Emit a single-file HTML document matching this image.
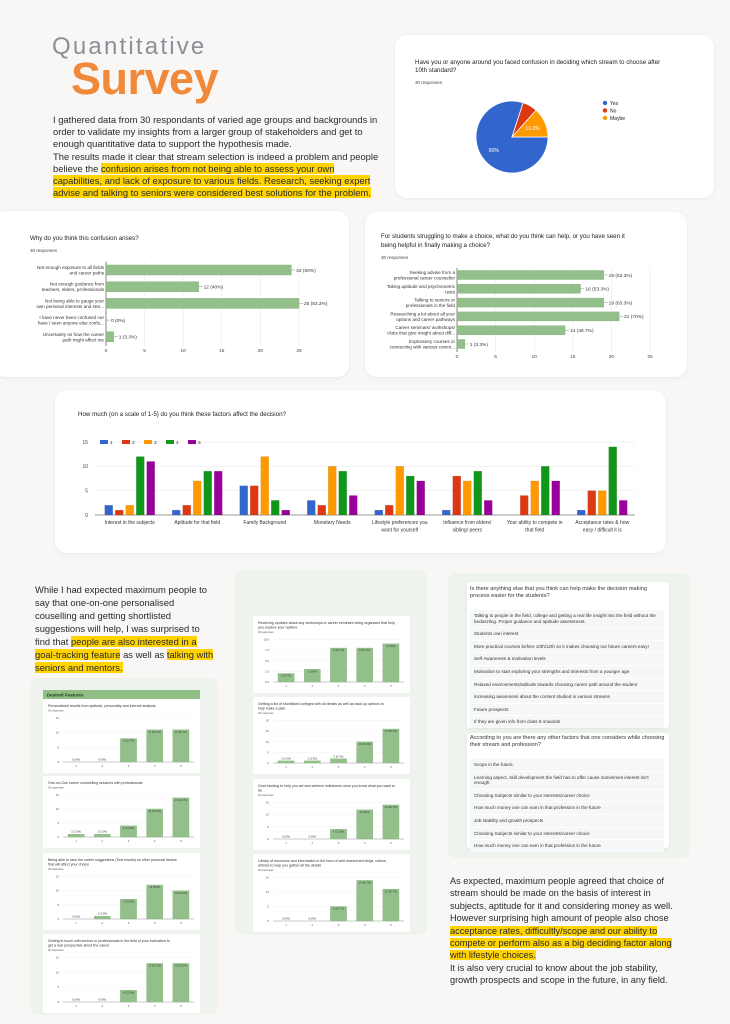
<!DOCTYPE html>
<html><head><meta charset="utf-8">
<style>
*{margin:0;padding:0;box-sizing:border-box}
body{width:730px;height:1024px;background:#f8f7f5;position:relative;overflow:hidden;font-family:"Liberation Sans",sans-serif;color:#222}
.abs{position:absolute}
.card{position:absolute;background:#fff;border-radius:12px;box-shadow:0 1px 4px rgba(0,0,0,0.06)}
.panel{position:absolute;background:#eef3ee;border-radius:8px}
.hl{background:#ffd400}
.para{position:absolute;white-space:nowrap;color:#2a2a2a}
#charts{position:absolute;left:0;top:0;width:730px;height:1024px;pointer-events:none}
</style></head><body>
<div class="abs" style="left:52px;top:33px;font-size:24px;letter-spacing:2.2px;color:#8b8f9a">Quantitative</div>
<div class="abs" style="left:71px;top:53px;font-size:45px;font-weight:bold;color:#f08a3a;letter-spacing:-0.5px">Survey</div>
<div class="para" style="left:53px;top:114px;font-size:9.4px;line-height:12.2px">I gathered data from 30 respondants of varied age groups and backgrounds in<br>order to validate my insights from a larger group of stakeholders and get to<br>enough quantitative data to support the hypothesis made.<br>The results made it clear that stream selection is indeed a problem and people<br>believe the <span class="hl">confusion arises from not being able to assess your own</span><br><span class="hl">capabilities, and lack of exposure to various fields. Research, seeking expert</span><br><span class="hl">advise and talking to seniors were considered best solutions for the problem.</span></div>

<div class="card" style="left:395px;top:35px;width:319px;height:163px"></div>
<div class="card" style="left:-6px;top:211px;width:355px;height:166px"></div>
<div class="card" style="left:365px;top:212px;width:322px;height:165px"></div>
<div class="card" style="left:55px;top:390px;width:611px;height:163px"></div>

<div class="para" style="left:35px;top:583px;font-size:9.4px;line-height:13px">While I had expected maximum people to<br>say that one-on-one personalised<br>couselling and getting shortlisted<br>suggestions will help, I was surprised to<br>find that <span class="hl">people are also interested in a</span><br><span class="hl">goal-tracking feature</span> as well as <span class="hl">talking with</span><br><span class="hl">seniors and mentors.</span></div>

<div class="panel" style="left:30px;top:678px;width:188px;height:337px"></div>
<div class="panel" style="left:235px;top:570px;width:192px;height:365px"></div>
<div class="panel" style="left:448px;top:573px;width:242px;height:285px"></div>

<div class="card" style="left:467px;top:582px;width:202px;height:146px;border-radius:3px;font-size:4.6px;color:#333">
<div style="padding:4px 3px;font-size:5.6px;line-height:7px;height:28px">Is there anything else that you think can help make the decision making process easier for the students?</div>
<div id="list1"></div></div>
<div class="card" style="left:467px;top:733px;width:202px;height:115px;border-radius:3px;font-size:4.6px;color:#333">
<div style="padding:2px 3px;font-size:5.6px;line-height:7px;height:26px">According to you are there any other factors that one considers while choosing their stream and profession?</div>
<div id="list2"></div></div>

<div class="para" style="left:450px;top:875px;font-size:9.2px;line-height:12.4px">As expected, maximum people agreed that choice of<br>stream should be made on the basis of interest in<br>subjects, aptitude for it and considering money as well.<br>However surprising high amount of people also chose<br><span class="hl">acceptance rates, difficultly/scope and our ability to</span><br><span class="hl">compete or perform also as a big deciding factor along</span><br><span class="hl">with lifestyle choices.</span><br>It is also very crucial to know about the job stability,<br>growth prospects and scope in the future, in any field.</div>

<svg id="charts" xmlns="http://www.w3.org/2000/svg" width="730" height="1024" font-family="Liberation Sans, sans-serif"></svg>

<script>
// ---- data ----
const pieLabels=["Yes","No","Maybe"];
const pieValues=[24,2,4];
const confCats=[["Not enough exposure to all fields","and career paths"],["Not enough guidance from","teachers, elders, professionals"],["Not being able to gauge your","own personal interests and stre..."],["I have never been confused nor","have I seen anyone else confu..."],["Uncertainty on how the career","path might affect me"]];
const confVals=[24,12,25,0,1];
const helpCats=[["Seeking advise from a","professional career counsellor"],["Taking aptitude and psychometric","tests"],["Talking to seniors or","professionals in the field"],["Researching a lot about all your","options and career pathways"],["Career seminars/ workshops/","clubs that give insight about diff..."],["Exploratory courses or","connecting with various comm..."]];
const helpVals=[19,16,19,21,14,1];
const axisTicks25=[0,5,10,15,20,25];
const factorCats=[["Interest in the subjects"],["Aptitude for that field"],["Family Background"],["Monetary Needs"],["Lifestyle preferences you","want for yourself"],["Influence from elders/","sibling/ peers"],["Your ability to compete in","that field"],["Acceptance rates & how","easy / difficult it is"]];
const seriesNames=["1","2","3","4","5"];
const s1=[2,1,6,3,1,1,0,1];
const s2=[1,2,6,2,2,8,4,5];
const s3=[2,7,12,10,10,7,7,5];
const s4=[12,9,3,9,8,9,10,14];
const s5=[11,9,1,4,7,3,7,3];
const factorTicks=[0,5,10,15];
const miniTitles=["Personalised results from aptitude, personality and interest analysis","One-on-One career counselling sessions with professionals","Being able to rank the career suggestions (Test results) on other personal factors that will affect your choice","Getting in touch with seniors or professionals in the field of your inclination to get a real perspective about the career","Receiving updates about any workshops or career seminars being organised that help you explore your options","Getting a list of shortlisted colleges with all details as well as back up options to help make a plan","Goal tracking to help you set and achieve milestones once you know what you want to do","Library of resources and information in the form of well researched blogs, videos, articles to help you gather all the details"];
const mini1=[0,0,8,11,11];
const mini2=[1,1,4,10,14];
const mini3=[0,1,7,12,10];
const mini4=[0,0,4,13,13];
const mini5=[2,3,8,8,9];
const mini6=[1,1,2,10,16];
const mini7=[0,0,4,12,14];
const mini8=[0,0,5,14,11];
const miniMax=[15,15,15,15,10,20,15,15];
const list1Items=["Talking to people in the field, college and getting a real life insight into the field without the bedazzling. Proper guidance and aptitude assessment.","Students own interest","More practical courses before 10th/12th so it makes choosing our future careers easy!","Self-Awareness & motivation levels","Motivation to start exploring your strengths and interests from a younger age","Relaxed environments/attitude towards choosing career path around the student","increasing awareness about the content studied in various streams","Future prospects","If they are given info from class 8 onwards"];
const list2Items=["Scope in the future,","Learning aspect, skill development the field has to offer cause sometimes interest isn't enough.","Choosing Subjects similar to your interests/career choice","How much money one can earn in that profession in the future","Job stability and growth prospects","Choosing Subjects similar to your interests/career choice","How much money one can earn in that profession in the future"];

const NS="http://www.w3.org/2000/svg";
const svg=document.getElementById('charts');
function mk(tag,attrs,parent,txt){const e=document.createElementNS(NS,tag);for(const k in attrs)e.setAttribute(k,attrs[k]);if(txt!==undefined)e.textContent=txt;(parent||svg).appendChild(e);return e;}

function fillList(id,items,rowH){const c=document.getElementById(id);items.forEach((t,i)=>{const d=document.createElement('div');


d.style.cssText='background:#f6f7f8;margin:0 0 1px 3px;width:194px;padding:3px 4px;line-height:5.6px;min-height:'+rowH+'px';d.textContent=t;c.appendChild(d);});}
fillList('list1',list1Items,11.5);
fillList('list2',list2Items,11.3);

(function(){const g=mk('g',{});


mk('text',{x:415,y:64,'font-size':6.2,fill:'#222'},g,'Have you or anyone around you faced confusion in deciding which stream to choose after');
mk('text',{x:415,y:72,'font-size':6.2,fill:'#222'},g,'10th standard?');
mk('text',{x:415,y:84,'font-size':4.5,fill:'#444'},g,'30 responses');
const cols=['#3366cc','#dc3912','#ff9900'];const cx=512,cy=137,r=36;const tot=pieValues.reduce((a,b)=>a+b,0);
let a=Math.PI/2;
pieValues.forEach((v,i)=>{const a2=a+v/tot*2*Math.PI;const p=t=>[cx+r*Math.sin(t),cy-r*Math.cos(t)];const [x1,y1]=p(a),[x2,y2]=p(a2);
const s=mk('path',{d:`M${cx},${cy}L${x1},${y1}A${r},${r} 0 ${a2-a>Math.PI?1:0} 1 ${x2},${y2}Z`,fill:cols[i],stroke:'#fff','stroke-width':0.8},g);


const pct=(v/tot*100);const m=(a+a2)/2;const lr=v/tot>0.1?r*0.62:0;
if(v/tot>0.1){mk('text',{x:cx+lr*Math.sin(m),y:cy-lr*Math.cos(m)+2,'font-size':5,fill:'#fff','text-anchor':'middle'},g,(Math.round(pct*10)/10)+'%');}
const ly=103+i*7.5;mk('circle',{cx:605,cy:ly,r:2.2,fill:cols[i]},g);mk('text',{x:610,y:ly+1.8,'font-size':5,fill:'#222'},g,pieLabels[i]);
a=a2;});})();

function hbar(name,title,cats,vals,x0,scale,y0,step,bh,axisY,titleY){const g=mk('g',{});


title.forEach((t,i)=>mk('text',{x:x0-76,y:titleY+i*9,'font-size':6.2,fill:'#222'},g,t));
mk('text',{x:x0-76,y:titleY+title.length*9+3,'font-size':4.5,fill:'#444'},g,'30 responses');
const top=y0-step/2,bot=axisY-6;
axisTicks25.forEach(t=>{const x=x0+t*scale;mk('line',{x1:x,x2:x,y1:top,y2:bot,stroke:'#e6e6e6','stroke-width':0.5},g);mk('text',{x:x,y:axisY,'font-size':4.8,fill:'#444','text-anchor':'middle'},g,t);});
mk('line',{x1:x0,x2:x0,y1:top,y2:bot,stroke:'#555','stroke-width':0.7},g);
cats.forEach((c,i)=>{const cy=y0+i*step;
mk('text',{x:x0-2,y:cy-1,'font-size':4.6,fill:'#333','text-anchor':'end'},g,c[0]);
mk('text',{x:x0-2,y:cy+4.5,'font-size':4.6,fill:'#333','text-anchor':'end'},g,c[1]);
const w=vals[i]*scale;const b=mk('rect',{x:x0,y:cy-bh/2,width:w,height:bh,fill:'#93c08a',stroke:'#7fae76','stroke-width':0.4},g);


mk('line',{x1:x0+w,x2:x0+w+4,y1:cy,y2:cy,stroke:'#777','stroke-width':0.4},g);
mk('text',{x:x0+w+5,y:cy+1.8,'font-size':4.8,fill:'#333'},g,vals[i]+' ('+(Math.round(vals[i]/30*1000)/10)+'%)');});}
hbar('confusion-chart',['Why do you think this confusion arises?'],confCats,confVals,106,7.72,270,16.7,10,352,240);
hbar('help-chart',['For students struggling to make a choice, what do you think can help, or you have seen it','being helpful in finally making a choice?'],helpCats,helpVals,457,7.72,275,13.8,9,358,238);

(function(){const g=mk('g',{});


mk('text',{x:78,y:416,'font-size':6.2,fill:'#222'},g,'How much (on a scale of 1-5) do you think these factors affect the decision?');
const y0=515,sc=73/15,x0=95,x1=635;const series=[s1,s2,s3,s4,s5];const cols=['#3366cc','#dc3912','#ff9900','#109618','#990099'];
factorTicks.forEach(t=>{const y=y0-t*sc;mk('line',{x1:x0,x2:x1,y1:y,y2:y,stroke:'#e4e4e4','stroke-width':0.5},g);mk('text',{x:88,y:y+1.8,'font-size':5,fill:'#444','text-anchor':'end'},g,t);});
mk('line',{x1:x0,x2:x1,y1:y0,y2:y0,stroke:'#444','stroke-width':0.6},g);
seriesNames.forEach((n,i)=>{const lx=100+i*22;mk('rect',{x:lx,y:440,width:8,height:4,fill:cols[i]},g);mk('text',{x:lx+10,y:444,'font-size':4.8,fill:'#333'},g,n);});
const gw=(x1-x0)/factorCats.length;
factorCats.forEach((c,ci)=>{const cx=x0+gw*(ci+0.5)+1;
series.forEach((s,si)=>{const h=s[ci]*sc;const b=mk('rect',{x:cx-25+si*10.5,y:y0-h,width:8,height:h,fill:cols[si],stroke:'rgba(0,0,0,0.15)','stroke-width':0.4},g);

});
c.forEach((l,li)=>mk('text',{x:cx,y:524+li*7.5,'font-size':5,fill:'#333','text-anchor':'middle'},g,l));});})();

const miniData=[mini1,mini2,mini3,mini4,mini5,mini6,mini7,mini8];
const miniRects=[[43,699,157,74],[43,776,157,72],[43,853,157,77],[43,934,157,79],[253,616,157,77],[253,697,157,77],[253,779,157,71],[253,854,157,78]];
(function(){const h=mk('rect',{x:43,y:690,width:157,height:9,fill:'#8fbf85'});


mk('text',{x:47,y:696.5,'font-size':4.5,fill:'#1f3a1c','font-weight':'bold'},svg,'Desired Features');})();
miniData.forEach((vals,k)=>{const [x,y,w,h]=miniRects[k];const g=mk('g',{});


mk('rect',{x:x,y:y,width:w,height:h,fill:'#fff',rx:1.5},g);
const words=miniTitles[k];const line1=words.length>85?words.slice(0,words.lastIndexOf(' ',85)):words;const line2=words.slice(line1.length);
mk('text',{x:x+5,y:y+8,'font-size':3.6,fill:'#333'},g,line1);
let ty=y+8;if(line2.trim()){ty+=4.5;mk('text',{x:x+5,y:ty,'font-size':3.6,fill:'#333'},g,line2.trim());}
mk('text',{x:x+5,y:ty+4.5,'font-size':2.6,fill:'#555'},g,'30 responses');
const bot=y+h-11,top=ty+11,px0=x+20,px1=x+w-6;const mx=miniMax[k];const sc=(bot-top)/mx;const step=mx>10?5:2.5;
for(let t=0;t<=mx+0.01;t+=step){const yy=bot-t*sc;mk('line',{x1:px0,x2:px1,y1:yy,y2:yy,stroke:'#eee','stroke-width':0.4},g);mk('text',{x:px0-4,y:yy+1,'font-size':2.8,fill:'#555','text-anchor':'end'},g,step<5?t.toFixed(1):t);}
mk('line',{x1:px0,x2:px1,y1:bot,y2:bot,stroke:'#999','stroke-width':0.5},g);
const bw=(px1-px0)/5;
vals.forEach((v,i)=>{const bx=px0+bw*i+bw*0.19,bwid=bw*0.62,bh=v*sc;
const b=mk('rect',{x:bx,y:bot-bh,width:bwid,height:bh,fill:'#93c08a',stroke:'#7fae76','stroke-width':0.3},g);


const lab=v+' ('+(Math.round(v/30*1000)/10)+'%)';
mk('text',{x:bx+bwid/2,y:(bh>6?bot-bh+3.2:bot-bh-1.5),'font-size':2.6,fill:'#333','text-anchor':'middle'},g,lab);
mk('text',{x:bx+bwid/2,y:bot+5,'font-size':2.8,fill:'#555','text-anchor':'middle'},g,i+1);});});
</script>
</body></html>
